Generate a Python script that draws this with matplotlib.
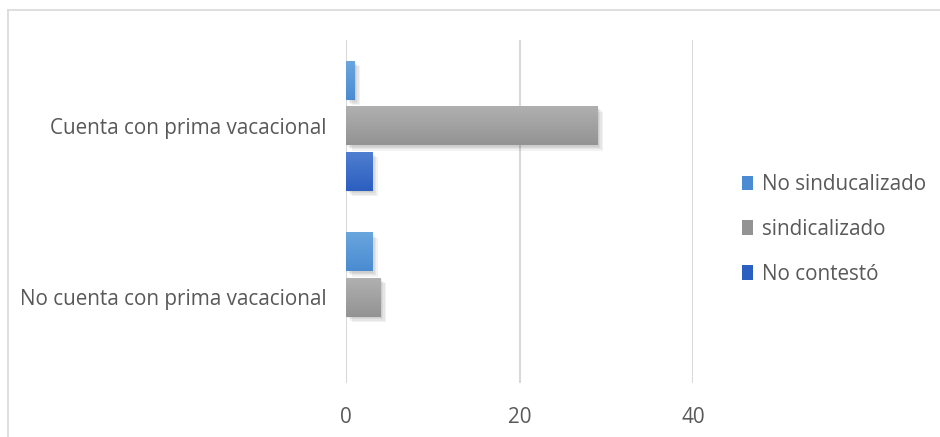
import numpy as np
import matplotlib
matplotlib.use('Agg')
import matplotlib.pyplot as plt
from matplotlib.patches import Rectangle
from matplotlib.lines import Line2D
import matplotlib.patheffects as pe

categories = ["Cuenta con prima vacacional", "No cuenta con prima vacacional"]
series = ["No sinducalizado", "sindicalizado", "No contestó"]
no_sindicalizado = [1, 3]
sindicalizado = [29, 4]
no_contesto = [3, 0]
values = [no_sindicalizado, sindicalizado, no_contesto]
xticks = [0, 20, 40]

# (top colour, bottom colour) for the vertical gradient of each series
colors = [("#6aa6de", "#4a8bd1"), ("#b0b0b0", "#939393"), ("#4f7ed0", "#2b5fc0")]

plt.rcParams['font.family'] = ['Open Sans', 'DejaVu Sans']
text_color = "#595959"
fs = 14.9

fig = plt.figure(figsize=(9.4, 4.37), dpi=100)
ax = fig.add_axes([346 / 940, 1 - 383 / 437, (693 - 346) / 940, (383 - 40) / 437])

h = 0.227
step = 0.265
y = np.arange(len(categories))
grad = np.linspace(0, 1, 64).reshape(-1, 1)

shadow = [pe.SimplePatchShadow(offset=(o, -o), shadow_rgbFace='#000000', alpha=0.05) for o in (1, 2, 3, 4)]

for i, (vals, (c1, c2)) in enumerate(zip(values, colors)):
    ypos = y + (i - 1) * step
    bars = ax.barh(ypos, vals, height=h, color=c2, zorder=3, linewidth=0,
                   path_effects=shadow + [pe.Normal()])
    cmap = matplotlib.colors.LinearSegmentedColormap.from_list("g", [c1, c2])
    for b in bars:
        if b.get_width() <= 0:
            continue
        x0, y0 = b.get_x(), b.get_y()
        im = ax.imshow(grad, cmap=cmap, aspect='auto', zorder=4,
                       extent=(x0, x0 + b.get_width(), y0 + b.get_height(), y0),
                       interpolation='bilinear')
        im.set_clip_path(b)

ax.set_xlim(0, 40)
ax.set_ylim(1.5, -0.5)
ax.set_xticks(xticks)
ax.set_yticks(y)
ax.set_yticklabels(categories)
ax.grid(axis='x', color='#d9d9d9', linewidth=1.5, zorder=0)
ax.tick_params(length=0, labelsize=fs, colors=text_color)
ax.tick_params(axis='x', pad=17)
ax.tick_params(axis='y', pad=14)
for s in ax.spines.values():
    s.set_visible(False)

handles = [Rectangle((0, 0), 1, 1, facecolor=c[1]) for c in colors]
leg = fig.legend(handles, series, loc='upper left', bbox_to_anchor=(742 / 940, 1 - 174 / 437),
                 frameon=False, fontsize=fs, labelspacing=1.15, handlelength=0.55,
                 handleheight=0.7, handletextpad=0.4, borderaxespad=0, borderpad=0)
for t in leg.get_texts():
    t.set_color(text_color)

# chart border (top and left visible)
fig.add_artist(Line2D([8 / 940, 1], [1 - 10 / 437, 1 - 10 / 437], color='#d9d9d9', linewidth=1.2,
                      transform=fig.transFigure))
fig.add_artist(Line2D([8 / 940, 8 / 940], [0, 1 - 10 / 437], color='#d9d9d9', linewidth=1.2,
                      transform=fig.transFigure))

fig.savefig("out.png", dpi=100)
